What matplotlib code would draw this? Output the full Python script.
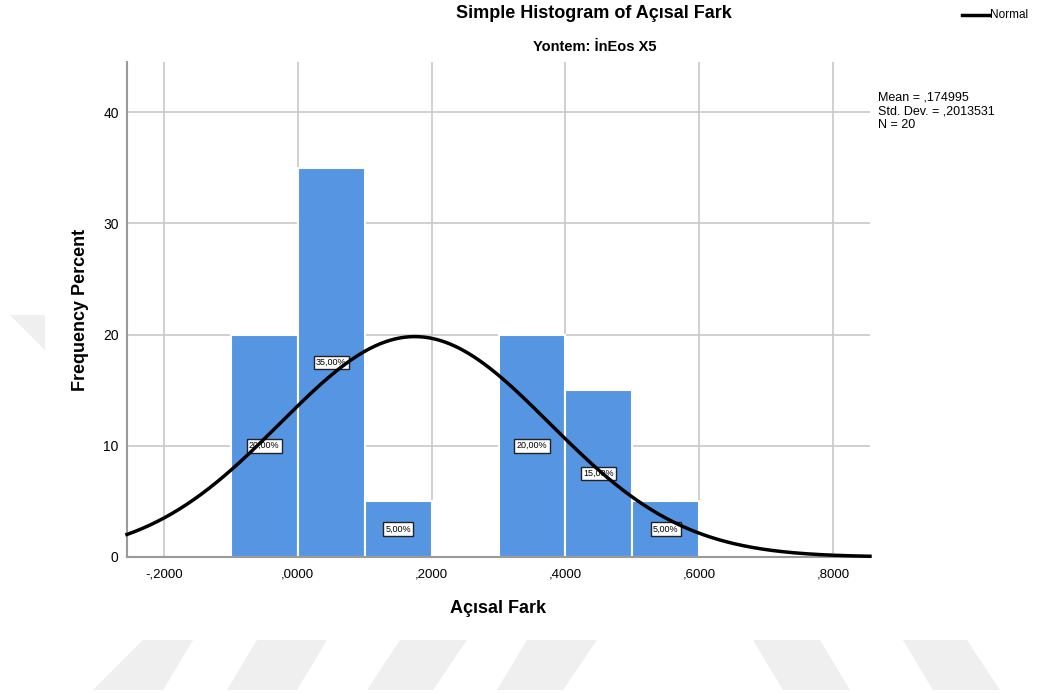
import numpy as np
import matplotlib.pyplot as plt
from matplotlib.patches import Polygon

plt.rcParams['font.family'] = ['Liberation Sans', 'DejaVu Sans']

# histogram bins (width 0,1) and percent per bin
bin_left = [-0.1, 0.0, 0.1, 0.2, 0.3, 0.4, 0.5]
percent = [20, 35, 5, 0, 20, 15, 5]
bin_width = 0.1

mean = 0.174995
std = 0.2013531
n = 20

xticks = [-0.2, 0.0, 0.2, 0.4, 0.6, 0.8]
xtick_labels = ['-,2000', ',0000', ',2000', ',4000', ',6000', ',8000']
yticks = [0, 10, 20, 30, 40]

fig = plt.figure(figsize=(10.37, 6.93), dpi=100)

# faint background stripes
stripes = [
    [(93, 690), (163, 690), (193, 640), (143, 640)],
    [(227, 690), (297, 690), (327, 640), (257, 640)],
    [(367, 690), (433, 690), (467, 640), (400, 640)],
    [(497, 690), (563, 690), (597, 640), (527, 640)],
    [(783, 690), (850, 690), (820, 640), (753, 640)],
    [(933, 690), (1000, 690), (967, 640), (903, 640)],
    [(10, 315), (45, 315), (45, 350)],
]
for pts in stripes:
    p = Polygon([(x / 1037, 1 - y / 693) for x, y in pts], closed=True,
                transform=fig.transFigure, facecolor='#efefef',
                edgecolor='none', zorder=0)
    fig.patches.append(p)

ax = fig.add_axes([127 / 1037, 1 - 557 / 693, (870 - 127) / 1037, (557 - 62) / 693])
ax.patch.set_alpha(0)

ax.set_xlim(-0.255, 0.855)
ax.set_ylim(0, 44.5)

ax.set_xticks(xticks)
ax.set_xticklabels(xtick_labels, fontsize=9.5)
ax.set_yticks(yticks)
ax.tick_params(axis='y', labelsize=10, length=0, pad=6)
ax.tick_params(axis='x', length=0, pad=8)
ax.grid(True, color='#c8c8c8', linewidth=1.2, zorder=0)
ax.set_axisbelow(True)

for s in ['top', 'right']:
    ax.spines[s].set_visible(False)
ax.spines['left'].set_color('#9a9a9a')
ax.spines['left'].set_linewidth(1.5)
ax.spines['bottom'].set_color('#9a9a9a')
ax.spines['bottom'].set_linewidth(1.5)

ax.bar(bin_left, percent, width=bin_width, align='edge',
       color='#5595e2', edgecolor='white', linewidth=1.5, zorder=2)

# percent labels at half height of each bar
for x0, v in zip(bin_left, percent):
    if v == 0:
        continue
    ax.text(x0 + bin_width / 2, v / 2, ('%.2f' % v).replace('.', ',') + '%',
            ha='center', va='center', fontsize=6.5, zorder=3,
            bbox=dict(boxstyle='square,pad=0.25', facecolor='white',
                      edgecolor='#222222', linewidth=1))

# normal curve scaled to percent per bin
xs = np.linspace(-0.255, 0.855, 400)
ys = 100 * bin_width * np.exp(-0.5 * ((xs - mean) / std) ** 2) / (std * np.sqrt(2 * np.pi))
ax.plot(xs, ys, color='black', linewidth=2.5, zorder=4, clip_on=False)

ax.set_xlabel('Açısal Fark', fontsize=13, fontweight='bold', labelpad=14)
ax.set_ylabel('Frequency Percent', fontsize=13, fontweight='bold', labelpad=10)

fig.text(594 / 1037, 1 - 13 / 693, 'Simple Histogram of Açısal Fark',
         ha='center', va='center', fontsize=13, fontweight='bold')
fig.text(595 / 1037, 1 - 47 / 693, 'Yontem: İnEos X5',
         ha='center', va='center', fontsize=10.5, fontweight='bold')

fig.text(878 / 1037, 1 - 111 / 693,
         'Mean = ,%s\nStd. Dev. = ,%s\nN = %d' % (str(mean)[2:], str(std)[2:], n),
         ha='left', va='center', fontsize=9, linespacing=1.2)

# legend entry
fig.lines.append(plt.Line2D([962 / 1037, 989 / 1037], [1 - 15 / 693, 1 - 15 / 693],
                            transform=fig.transFigure, color='black', linewidth=2.5))
fig.text(990 / 1037, 1 - 15 / 693, 'Normal', ha='left', va='center', fontsize=8.5)

fig.savefig('out.png', dpi=100)
